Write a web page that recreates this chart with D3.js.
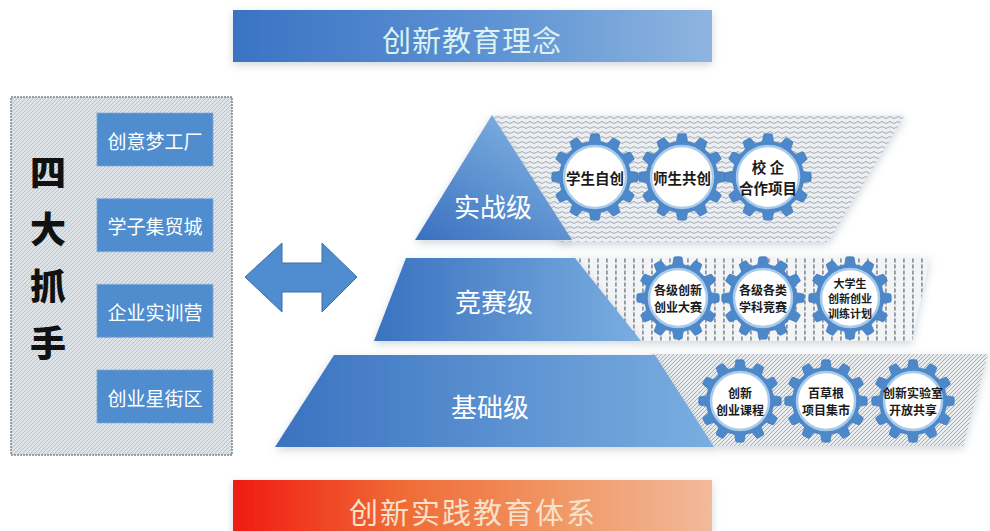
<!DOCTYPE html>
<html><head><meta charset="utf-8">
<script src="https://cdn.jsdelivr.net/npm/d3@7"></script>
<style>html,body{margin:0;padding:0;background:#fff;}svg{display:block;}</style>
</head><body>
<script>
// ---- data ----
const topTitle = "创新教育理念";
const bottomTitle = "创新实践教育体系";
const leftTitle = ["四", "大", "抓", "手"];
const leftItems = ["创意梦工厂", "学子集贸城", "企业实训营", "创业星街区"];
const levels = ["实战级", "竞赛级", "基础级"];
const gearLabels = [
  [["学生自创"], ["师生共创"], ["校  企", "合作项目"]],
  [["各级创新", "创业大赛"], ["各级各类", "学科竞赛"], ["大学生", "创新创业", "训练计划"]],
  [["创新", "创业课程"], ["百草根", "项目集市"], ["创新实验室", "开放共享"]]
];

const W = 990, H = 531;
const svg = d3.select("body").append("svg").attr("width", W).attr("height", H);
const defs = svg.append("defs");
const font = "'Noto Sans CJK SC','Noto Sans',sans-serif";

// gradients
function lin(id, stops, x2 = "100%", y2 = "0%", x1 = "0%", y1 = "0%") {
  const g = defs.append("linearGradient").attr("id", id)
    .attr("x1", x1).attr("y1", y1).attr("x2", x2).attr("y2", y2);
  stops.forEach(s => g.append("stop").attr("offset", s[0]).attr("stop-color", s[1]));
}
lin("gTop", [["0%", "#3b73c4"], ["55%", "#5e93d4"], ["100%", "#8fb5df"]]);
lin("gBot", [["0%", "#f01a12"], ["35%", "#f06a35"], ["70%", "#f09a68"], ["100%", "#f2b99a"]]);
lin("gBand", [["0%", "#3a72c0"], ["100%", "#7aaee0"]]);
lin("gTri", [["0%", "#3a70bf"], ["100%", "#82b4e2"]], "80%", "0%", "0%", "100%");

// shadow
const f = defs.append("filter").attr("id", "sh").attr("x", "-10%").attr("y", "-10%").attr("width", "130%").attr("height", "140%");
f.append("feDropShadow").attr("dx", 0).attr("dy", 3).attr("stdDeviation", 4).attr("flood-color", "#9aa6b2").attr("flood-opacity", 0.45);

// patterns
function pattern(id, w, h, bg, draw) {
  const p = defs.append("pattern").attr("id", id).attr("patternUnits", "userSpaceOnUse").attr("width", w).attr("height", h);
  p.append("rect").attr("width", w).attr("height", h).attr("fill", bg);
  draw(p);
}
pattern("pWave", 8, 5, "#eceff1", p => {
  p.append("path").attr("d", "M0 2.5 Q2 0.6 4 2.5 T8 2.5").attr("fill", "none").attr("stroke", "#9aa3ab").attr("stroke-width", 0.9);
});
pattern("pDots", 9, 6, "#f2f4f5", p => {
  p.append("rect").attr("x", 3).attr("y", 0.5).attr("width", 1.8).attr("height", 4).attr("fill", "#8e979f");
});
pattern("pHatch", 4, 4, "#e9ecee", p => {
  p.append("path").attr("d", "M-1 1 L1 -1 M0 4 L4 0 M3 5 L5 3").attr("stroke", "#9da6ad").attr("stroke-width", 0.9);
});
pattern("pLeft", 4, 4, "#dde3e6", p => {
  p.append("path").attr("d", "M-1 1 L1 -1 M0 4 L4 0 M3 5 L5 3").attr("stroke", "#b4bdc3").attr("stroke-width", 0.8);
});

const line = d3.line();

// ---- top & bottom banners ----
const bx = d3.scaleLinear().domain([0, 1]).range([233, 712]);
svg.append("rect").attr("x", bx(0)).attr("y", 10).attr("width", bx(1) - bx(0)).attr("height", 52)
  .attr("fill", "url(#gTop)").attr("filter", "url(#sh)");
svg.append("text").attr("x", 472).attr("y", 39).attr("text-anchor", "middle").attr("dominant-baseline", "central")
  .attr("font-family", font).attr("font-size", 29).attr("fill", "#dcf2f2").attr("letter-spacing", 1).text(topTitle);

svg.append("rect").attr("x", bx(0)).attr("y", 480).attr("width", bx(1) - bx(0)).attr("height", 60)
  .attr("fill", "url(#gBot)").attr("filter", "url(#sh)");
svg.append("text").attr("x", 473).attr("y", 511).attr("text-anchor", "middle").attr("dominant-baseline", "central")
  .attr("font-family", font).attr("font-size", 29).attr("fill", "#f6e2cc").attr("letter-spacing", 2).text(bottomTitle);

// ---- left panel ----
svg.append("rect").attr("x", 11).attr("y", 97).attr("width", 221).attr("height", 358)
  .attr("fill", "url(#pLeft)").attr("stroke", "#7d868c").attr("stroke-width", 1.5).attr("stroke-dasharray", "2,1");
const ty = d3.scalePoint().domain(leftTitle).range([170, 341]);
svg.selectAll("text.lt").data(leftTitle).join("text").attr("class", "lt")
  .attr("x", 48).attr("y", d => ty(d)).attr("text-anchor", "middle").attr("dominant-baseline", "central")
  .attr("font-family", font).attr("font-size", 36).attr("font-weight", 900).attr("fill", "#111").text(d => d);

const iy = d3.scalePoint().domain(leftItems).range([113, 370]);
const items = svg.selectAll("g.it").data(leftItems).join("g").attr("class", "it");
items.append("rect").attr("x", 97).attr("y", d => iy(d)).attr("width", 116).attr("height", 53)
  .attr("fill", "#4f8dcf").attr("stroke", "#7fa9d6").attr("stroke-width", 1.2).attr("stroke-dasharray", "2,1");
items.append("text").attr("x", 155).attr("y", d => iy(d) + 27).attr("text-anchor", "middle").attr("dominant-baseline", "central")
  .attr("font-family", font).attr("font-size", 19).attr("fill", "#fff").text(d => d);

// ---- double arrow ----
svg.append("path").attr("d", line([[245, 277], [282, 243], [282, 263], [322, 263], [322, 243], [357, 277], [322, 312], [322, 292], [282, 292], [282, 312]]) + "Z")
  .attr("fill", "#4f8dd0").attr("stroke", "#3c6fa8").attr("stroke-width", 1);

// ---- pyramid bands ----
const bands = [
  { tex: "pWave", texPts: [[492, 115], [905, 115], [828, 242], [560, 242]], blue: [[492, 115], [572, 240], [415, 240]], fill: "url(#gTri)", label: [493, 205], gy: 177, gx: [595, 682, 768], gr: 43, fs: 14.5 },
  { tex: "pDots", texPts: [[570, 257], [930, 257], [912, 341], [640, 341]], blue: [[406, 258], [575, 258], [641, 341], [374, 341]], fill: "url(#gBand)", label: [494, 300], gy: 298, gx: [678, 763, 850], gr: 41, fs: 12 },
  { tex: "pHatch", texPts: [[650, 354], [988, 354], [963, 446], [712, 446]], blue: [[334, 355], [655, 355], [714, 447], [275, 447]], fill: "url(#gBand)", label: [490, 405], gy: 401, gx: [740, 826, 913], gr: 41, fs: 12 }
];

const gTeeth = 12;
function gearPath(R, r) {
  const pts = [];
  const step = 2 * Math.PI / gTeeth;
  for (let i = 0; i < gTeeth; i++) {
    const a = i * step;
    pts.push([a - step * 0.30, r]);
    pts.push([a - step * 0.18, R]);
    pts.push([a + step * 0.18, R]);
    pts.push([a + step * 0.30, r]);
  }
  return d3.lineRadial().curve(d3.curveCardinalClosed.tension(0.6))(pts);
}

bands.forEach((b, i) => {
  const g = svg.append("g");
  g.append("path").attr("d", line(b.texPts) + "Z").attr("fill", "url(#" + b.tex + ")").attr("filter", "url(#sh)");
  g.append("path").attr("d", line(b.blue) + "Z").attr("fill", b.fill).attr("filter", "url(#sh)");
  g.append("text").attr("x", b.label[0]).attr("y", b.label[1]).attr("text-anchor", "middle").attr("dominant-baseline", "central")
    .attr("font-family", font).attr("font-size", 26).attr("fill", "#fff").text(levels[i]);

  const gs = g.selectAll("g.gear").data(gearLabels[i]).join("g").attr("class", "gear")
    .attr("transform", (d, j) => `translate(${b.gx[j]},${b.gy})`);
  gs.append("path").attr("d", gearPath(b.gr, b.gr - 7)).attr("fill", "#4c88ca").attr("stroke", "#3f78bb").attr("stroke-width", 0.8);
  gs.append("circle").attr("r", b.gr - 12).attr("fill", "#fff").attr("stroke", "#a9cbea").attr("stroke-width", 2.5);
  gs.each(function (lines) {
    const n = lines.length;
    const fs = n > 2 ? b.fs - 1 : b.fs;
    const lh = fs * 1.4;
    d3.select(this).selectAll("text").data(lines).join("text")
      .attr("x", 0).attr("y", (d, k) => (k - (n - 1) / 2) * lh)
      .attr("text-anchor", "middle").attr("dominant-baseline", "central")
      .attr("font-family", font).attr("font-size", fs).attr("font-weight", 700).attr("fill", "#1a1a1a")
      .text(d => d);
  });
});
</script>
</body></html>
